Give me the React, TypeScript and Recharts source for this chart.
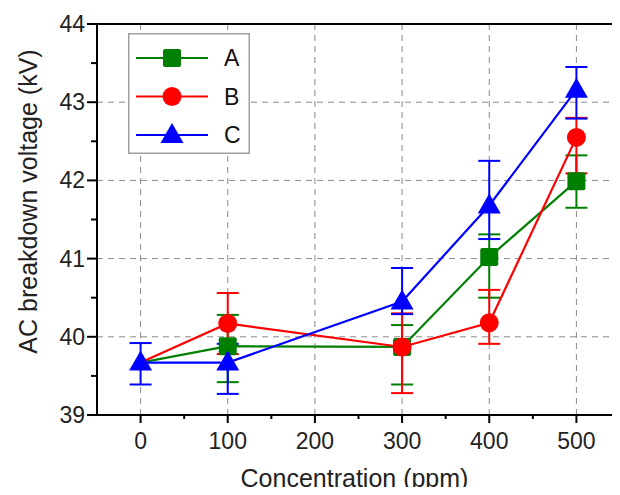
import {
  LineChart,
  Line,
  XAxis,
  YAxis,
  ErrorBar,
  ReferenceLine,
  Legend,
} from "recharts";

const concentrations = [0, 100, 300, 400, 500];

const seriesA = [39.67, 39.88, 39.87, 41.02, 41.99];
const seriesB = [39.67, 40.17, 39.87, 40.18, 42.55];
const seriesC = [39.67, 39.67, 40.45, 41.68, 43.16];

// [minus, plus]; null where the bar is hidden under the shared first point
const errA = [null, [0.46, 0.4], [0.48, 0.28], [0.52, 0.29], [0.34, 0.33]];
const errB = [null, [0.39, 0.39], [0.59, 0.43], [0.27, 0.42], [0.46, 0.25]];
const errC = [[0.28, 0.25], [0.4, 0.24], [0.16, 0.43], [0.43, 0.57], [0.37, 0.29]];

const xTicks = [0, 50, 100, 150, 200, 250, 300, 350, 400, 450, 500];
const xGrid = [0, 100, 200, 300, 400, 500];
const yTicks = [39, 39.5, 40, 40.5, 41, 41.5, 42, 42.5, 43, 43.5, 44];
const yGrid = [40, 41, 42, 43];

const FONT = "'Liberation Sans', Arial, sans-serif";
const GREEN = "#008000";
const RED = "#ff0000";
const BLUE = "#0000ff";

const data = concentrations.map((c, i) => ({
  conc: c,
  a: seriesA[i],
  b: seriesB[i],
  c: seriesC[i],
  aErr: errA[i],
  bErr: errB[i],
  cErr: errC[i],
}));

const Marker = ({ kind, cx, cy, color }: any) => {
  if (kind === "square")
    return <rect x={cx - 9} y={cy - 9} width={18} height={18} rx={2} fill={color} />;
  if (kind === "circle") return <circle cx={cx} cy={cy} r={9.5} fill={color} />;
  return (
    <polygon
      points={`${cx},${cy - 12} ${cx - 11.5},${cy + 8} ${cx + 11.5},${cy + 8}`}
      fill={color}
    />
  );
};

// the shared starting point is only drawn once (the triangle sits on top)
const series = [
  { key: "a", err: "aErr", name: "A", color: GREEN, kind: "square", skipFirst: true },
  { key: "b", err: "bErr", name: "B", color: RED, kind: "circle", skipFirst: true },
  { key: "c", err: "cErr", name: "C", color: BLUE, kind: "triangle", skipFirst: false },
];

const XTick = (props: any) => {
  const { x, y, payload } = props;
  const major = payload.value % 100 === 0;
  return (
    <g>
      <line x1={x} x2={x} y1={y} y2={y + (major ? 8 : 4)} stroke="#000" strokeWidth={2} />
      {major && (
        <text x={x} y={y + 34} textAnchor="middle" fontSize={23} fontFamily={FONT} fill="#222">
          {payload.value}
        </text>
      )}
    </g>
  );
};

const YTick = (props: any) => {
  const { x, y, payload } = props;
  const major = Number.isInteger(payload.value);
  return (
    <g>
      <line x1={x - (major ? 10 : 6)} x2={x} y1={y} y2={y} stroke="#000" strokeWidth={2} />
      {major && (
        <text x={x - 12} y={y + 8} textAnchor="end" fontSize={23} fontFamily={FONT} fill="#222">
          {payload.value}
        </text>
      )}
    </g>
  );
};

const LegendBox = () => (
  <svg width={122} height={121}>
    <rect x={0.75} y={0.75} width={120.5} height={119.5} fill="#fff" stroke="#a0a0a0" strokeWidth={1.5} />
    {series.map((s, i) => {
      const cy = 25 + i * 38.5;
      return (
        <g key={s.key}>
          <line x1={8} x2={80} y1={cy} y2={cy} stroke={s.color} strokeWidth={2} />
          <Marker kind={s.kind} cx={44} cy={cy} color={s.color} />
          <text x={96} y={cy + 8} fontSize={23} fontFamily={FONT} fill="#111">
            {s.name}
          </text>
        </g>
      );
    })}
  </svg>
);

export default function App() {
  return (
    <div style={{ position: "relative", width: 620, height: 495, margin: -8, background: "#fff" }}>
      <LineChart
        width={620}
        height={495}
        data={data}
        margin={{ top: 24, right: 0, left: 0, bottom: 0 }}
      >
        <XAxis
          dataKey="conc"
          type="number"
          domain={[-50, 550]}
          ticks={xTicks}
          interval={0}
          tick={<XTick />}
          tickLine={false}
          tickSize={0}
          tickMargin={0}
          height={80}
          axisLine={{ stroke: "#000", strokeWidth: 2 }}
          label={{
            content: (p: any) => (
              <text
                x={p.viewBox.x + p.viewBox.width / 2 - 4}
                y={p.viewBox.y + 72}
                textAnchor="middle"
                fontSize={25}
                fontFamily={FONT}
                fill="#222"
              >
                Concentration (ppm)
              </text>
            ),
          }}
        />
        <YAxis
          type="number"
          domain={[39, 44]}
          ticks={yTicks}
          interval={0}
          tick={<YTick />}
          tickLine={false}
          tickSize={0}
          tickMargin={0}
          width={97}
          axisLine={{ stroke: "#000", strokeWidth: 2 }}
          label={{
            content: (p: any) => {
              const cx = p.viewBox.x + 28;
              const cy = p.viewBox.y + p.viewBox.height / 2 - 18;
              return (
                <text
                  x={cx}
                  y={cy}
                  transform={`rotate(-90 ${cx} ${cy})`}
                  textAnchor="middle"
                  dominantBaseline="central"
                  fontSize={25}
                  fontFamily={FONT}
                  fill="#222"
                >
                  AC breakdown voltage (kV)
                </text>
              );
            },
          }}
        />
        {xGrid.map((v) => (
          <ReferenceLine key={`vx-${v}`} x={v} stroke="#8a8a8a" strokeDasharray="6 5" />
        ))}
        {yGrid.map((v) => (
          <ReferenceLine key={`hy-${v}`} y={v} stroke="#8a8a8a" strokeDasharray="6 5" />
        ))}
        <ReferenceLine y={44} stroke="#000" strokeWidth={2} />
        {series.map((s) => (
          <Line
            key={s.key}
            type="linear"
            dataKey={s.key}
            name={s.name}
            stroke={s.color}
            strokeWidth={2.2}
            isAnimationActive={false}
            dot={(p: any) =>
              s.skipFirst && p.index === 0 ? (
                <g key={p.key} />
              ) : (
                <Marker key={p.key} kind={s.kind} cx={p.cx} cy={p.cy} color={s.color} />
              )
            }
            activeDot={false}
          >
            <ErrorBar dataKey={s.err} direction="y" width={11} stroke={s.color} strokeWidth={2} />
          </Line>
        ))}
        <Legend
          layout="vertical"
          align="center"
          verticalAlign="middle"
          wrapperStyle={{ left: 128, top: 33, width: 122, height: 121 }}
          content={() => <LegendBox />}
        />
      </LineChart>
    </div>
  );
}
